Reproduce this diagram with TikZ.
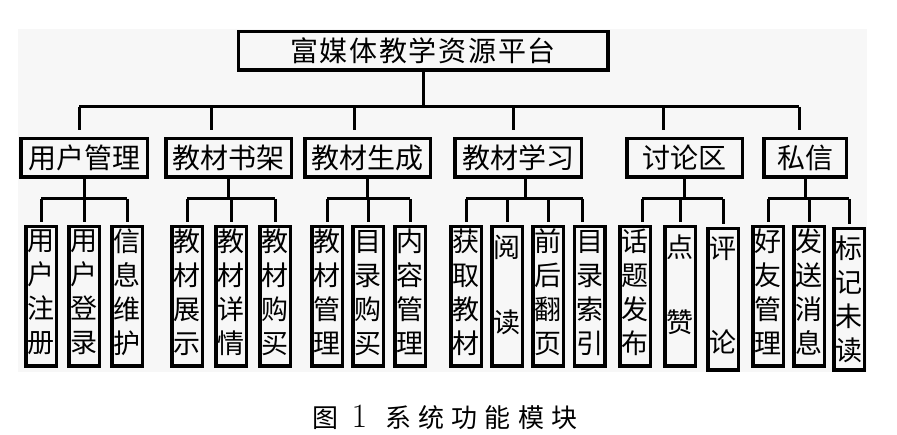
\documentclass[tikz,border=0pt]{standalone}
\usepackage{fontspec}
\newfontfamily\cjk{Noto Sans CJK SC}
\newfontfamily\cjkwide{Noto Sans CJK SC}[LetterSpace=6]
\newfontfamily\cjkcap{Noto Sans CJK SC}[LetterSpace=28]
\usetikzlibrary{positioning}

\begin{document}
\begin{tikzpicture}[x=1pt,y=-1pt,line width=3pt,
    box/.style={draw,line width=3.5pt,inner sep=0pt,minimum height=38.5pt,font=\cjk\fontsize{28}{34}\selectfont},
    leaf/.style={draw,line width=3.5pt,inner sep=0pt,minimum width=30.5pt,minimum height=139.5pt,align=center,
      font=\cjk\fontsize{27}{34}\selectfont,execute at end node={\vrule width 0pt depth #1}},
    leaf/.default=10pt]
  \useasboundingbox (0,0) rectangle (897,435);
  \fill[black!3] (18,29) rectangle (867,372);

  % platform and modules
  \node[box,minimum width=369.5pt,font=\cjkwide\fontsize{28}{34}\selectfont] (top) at (423,51) {富媒体教学资源平台};
  \node[box,minimum width=126.5pt] (user)  at (84,158)    {用户管理};
  \node[box,minimum width=125.5pt] (shelf) at (228.5,158) {教材书架};
  \node[box,minimum width=125.5pt] (gen)   at (367.5,158) {教材生成};
  \node[box,minimum width=126.5pt] (study) at (518,158)   {教材学习};
  \node[box,minimum width=115.5pt] (forum) at (684.5,158) {讨论区};
  \node[box,minimum width=82.5pt]  (msg)   at (805,158)   {私信};

  % functions
  \node[leaf] (reg)   at (41,296.5)        {用\\户\\注\\册};
  \node[leaf] (login) [right=9pt of reg]   {用\\户\\登\\录};
  \node[leaf] (info)  [right=9pt of login] {信\\息\\维\\护};

  \node[leaf] (show)   at (187,296.5)          {教\\材\\展\\示};
  \node[leaf] (detail) [right=10pt of show]    {教\\材\\详\\情};
  \node[leaf] (buy)    [right=10pt of detail]  {教\\材\\购\\买};

  \node[leaf] (mbook)   at (327,296.5)       {教\\材\\管\\理};
  \node[leaf] (toc)     [right=7pt of mbook] {目\\录\\购\\买};
  \node[leaf] (content) [right=8pt of toc]   {内\\容\\管\\理};

  \node[leaf]      (fetch) at (466,296.5)        {获\\取\\教\\材};
  \node[leaf=26pt] (read)  [right=7pt of fetch]  {阅\\[41pt]读};
  \node[leaf]      (flip)  [right=7pt of read]   {前\\后\\翻\\页};
  \node[leaf]      (index) [right=7.5pt of flip] {目\\录\\索\\引};

  \node[leaf]      (topic)   at (635,296.5)        {话\\题\\发\\布};
  \node[leaf=26pt] (like)    [right=11pt of topic] {点\\[41pt]赞};
  \node[leaf,minimum height=141.5pt,yshift=-3pt] (comment) [right=9pt of like] {评\\[60pt]论};

  \node[leaf]     (friend) at (768,296.5)       {好\\友\\管\\理};
  \node[leaf]     (send)   [right=7pt of friend] {发\\送\\消\\息};
  \node[leaf=2pt,minimum height=141.5pt,yshift=-3pt] (unread) [right=6pt of send] {标\\记\\未\\读};

  \node[font=\cjkcap\fontsize{26}{30}\selectfont] (cap) at (445,417)
    {图\hspace{13pt}{\rmfamily\fontsize{34}{34}\selectfont 1}\hspace{18pt}系统功能模块};

  % main bus
  \coordinate (bus) at (0,107);
  \coordinate (sub) at (0,199);
  \coordinate (tu) at (79,107);
  \coordinate (ts) at (211,107);
  \coordinate (tg) at (354,107);
  \coordinate (tl) at (513,107);
  \coordinate (tf) at (663,107);
  \coordinate (tm) at (799,107);
  \draw (top.south) -- (top.south |- bus);
  \draw (tu) -- (tm);
  \draw[shorten >=7pt] (tu) -- (tu |- user.north);
  \draw[shorten >=7pt] (ts) -- (ts |- shelf.north);
  \draw[shorten >=7pt] (tg) -- (tg |- gen.north);
  \draw[shorten >=7pt] (tl) -- (tl |- study.north);
  \draw[shorten >=7pt] (tf) -- (tf |- forum.north);
  \draw[shorten >=7pt] (tm) -- (tm |- msg.north);

  % user group
  \draw (user.south) -- (user.south |- sub);
  \draw (reg.north |- sub) -- (info.north |- sub);
  \draw[shorten >=3pt] (reg.north |- sub) -- (reg.north);
  \draw[shorten >=3pt] (login.north |- sub) -- (login.north);
  \draw[shorten >=3pt] (info.north |- sub) -- (info.north);

  % shelf group
  \draw (shelf.south) -- (shelf.south |- sub);
  \draw (show.north |- sub) -- (buy.north |- sub);
  \draw[shorten >=3pt] (show.north |- sub) -- (show.north);
  \draw[shorten >=3pt] (detail.north |- sub) -- (detail.north);
  \draw[shorten >=3pt] (buy.north |- sub) -- (buy.north);

  % gen group
  \draw (gen.south) -- (gen.south |- sub);
  \draw (mbook.north |- sub) -- (content.north |- sub);
  \draw[shorten >=3pt] (mbook.north |- sub) -- (mbook.north);
  \draw[shorten >=3pt] (toc.north |- sub) -- (toc.north);
  \draw[shorten >=3pt] (content.north |- sub) -- (content.north);

  % study group
  \coordinate (bl) at ([xshift=7pt]study.south);
  \coordinate (ti) at ([xshift=-7pt]index.north);
  \draw (bl) -- (bl |- sub);
  \draw (fetch.north |- sub) -- (ti |- sub);
  \draw[shorten >=3pt] (fetch.north |- sub) -- (fetch.north);
  \draw[shorten >=3pt] (read.north |- sub) -- (read.north);
  \draw[shorten >=3pt] (flip.north |- sub) -- (flip.north);
  \draw[shorten >=3pt] (ti |- sub) -- (ti);

  % forum group
  \coordinate (tt) at ([xshift=7pt]topic.north);
  \draw (forum.south) -- (forum.south |- sub);
  \draw (tt |- sub) -- (comment.north |- sub);
  \draw[shorten >=3pt] (tt |- sub) -- (tt);
  \draw[shorten >=3pt] (like.north |- sub) -- (like.north);
  \draw[shorten >=3pt] (comment.north |- sub) -- (comment.north);

  % msg group
  \draw (msg.south) -- (msg.south |- sub);
  \draw (friend.north |- sub) -- (unread.north |- sub);
  \draw[shorten >=3pt] (friend.north |- sub) -- (friend.north);
  \draw[shorten >=3pt] (send.north |- sub) -- (send.north);
  \draw[shorten >=3pt] (unread.north |- sub) -- (unread.north);
\end{tikzpicture}
\end{document}
